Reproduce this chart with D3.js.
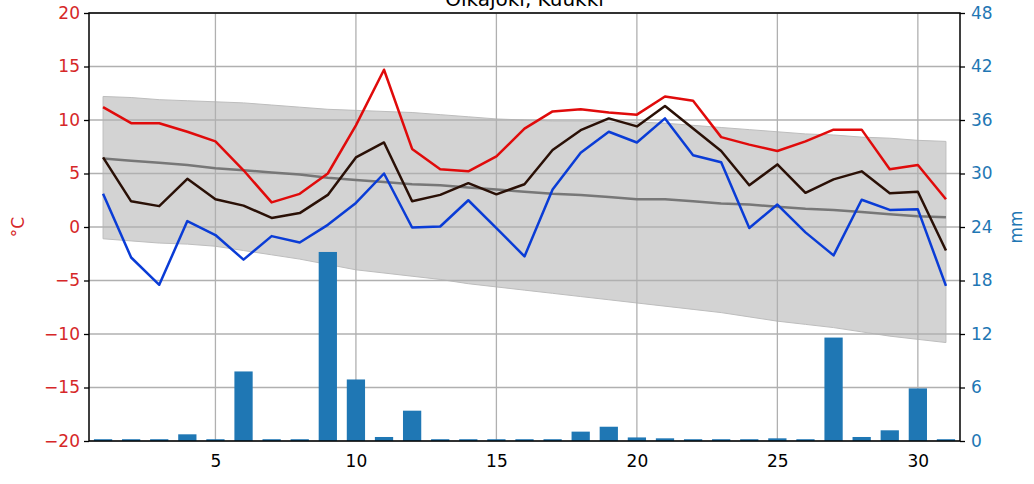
<!DOCTYPE html>
<html>
<head>
<meta charset="utf-8">
<script src="https://cdn.jsdelivr.net/npm/d3@7"></script>
<style>
  body { margin: 0; background: white; }
  text { font-family: "DejaVu Sans", sans-serif; }
</style>
</head>
<body>
<div id="vis"></div>
<script>
// daily values for the month
let days = d3.range(1, 32)
let tMax = [11.2, 9.7, 9.7, 8.9, 8.0, 5.3, 2.3, 3.1, 5.0, 9.5, 14.7, 7.3, 5.4, 5.2, 6.6, 9.2, 10.8, 11.0, 10.7, 10.5, 12.2, 11.8, 8.4, 7.7, 7.1, 8.0, 9.1, 9.1, 5.4, 5.8, 2.6]
let tMean = [6.5, 2.4, 1.95, 4.5, 2.6, 2.0, 0.85, 1.3, 3.0, 6.5, 7.9, 2.4, 3.0, 4.1, 3.05, 4.0, 7.2, 9.05, 10.15, 9.4, 11.3, 9.2, 7.1, 3.9, 5.85, 3.2, 4.45, 5.2, 3.15, 3.3, -2.2]
let tMin = [3.1, -2.85, -5.4, 0.55, -0.75, -3.05, -0.85, -1.45, 0.2, 2.25, 5.0, -0.05, 0.05, 2.5, -0.1, -2.75, 3.5, 6.95, 8.9, 7.9, 10.15, 6.7, 6.05, -0.1, 2.1, -0.5, -2.65, 2.55, 1.6, 1.65, -5.5]
let normMean = [6.4, 6.2, 6.0, 5.8, 5.5, 5.3, 5.1, 4.9, 4.6, 4.4, 4.2, 4.0, 3.9, 3.7, 3.5, 3.3, 3.1, 3.0, 2.8, 2.6, 2.6, 2.4, 2.2, 2.1, 1.9, 1.7, 1.6, 1.4, 1.2, 1.0, 0.9]
let normHigh = [12.2, 12.1, 11.9, 11.8, 11.7, 11.6, 11.4, 11.2, 11.0, 10.9, 10.8, 10.7, 10.5, 10.3, 10.1, 10.0, 9.9, 9.9, 9.8, 9.8, 9.7, 9.5, 9.3, 9.1, 8.9, 8.7, 8.6, 8.4, 8.3, 8.1, 8.0]
let normLow = [-1.1, -1.3, -1.5, -1.6, -1.8, -2.2, -2.6, -3.0, -3.5, -4.0, -4.3, -4.6, -4.9, -5.3, -5.6, -5.9, -6.2, -6.5, -6.8, -7.1, -7.4, -7.7, -8.0, -8.4, -8.8, -9.1, -9.4, -9.8, -10.2, -10.5, -10.8]
let precip = [0.2, 0.2, 0.2, 0.75, 0.2, 7.8, 0.2, 0.2, 21.2, 6.9, 0.45, 3.4, 0.2, 0.2, 0.2, 0.2, 0.2, 1.05, 1.6, 0.4, 0.3, 0.2, 0.2, 0.2, 0.3, 0.2, 11.6, 0.45, 1.2, 5.9, 0.2]

let xTicks = [5, 10, 15, 20, 25, 30]
let tTicks = [-20, -15, -10, -5, 0, 5, 10, 15, 20]
let pTicks = [0, 6, 12, 18, 24, 30, 36, 42, 48]

let margin = { top: 13, left: 89, right: 74, bottom: 43 },
  W = 1034, H = 484,
  width = W - margin.left - margin.right,
  height = H - margin.top - margin.bottom

let svg = d3.select('#vis')
  .append('svg')
  .attr('width', W)
  .attr('height', H)
  .style('background-color', 'white')

let g = svg.append('g')
  .attr('transform', `translate(${margin.left},${margin.top})`)

let x = d3.scaleLinear().domain([0.5, 31.5]).range([0, width])
let yT = d3.scaleLinear().domain([-20, 20]).range([height, 0])
let yP = d3.scaleLinear().domain([0, 48]).range([height, 0])

// normal range band
g.append('path')
  .datum(days)
  .attr('d', d3.area()
    .x(d => x(d))
    .y0((d, i) => yT(normLow[i]))
    .y1((d, i) => yT(normHigh[i])))
  .attr('fill', '#d3d3d3')
  .attr('stroke', '#bdbdbd')
  .attr('stroke-width', 1)

// grid
g.selectAll('.hgrid').data(tTicks).join('line')
  .attr('x1', 0).attr('x2', width)
  .attr('y1', d => yT(d)).attr('y2', d => yT(d))
  .attr('stroke', '#b0b0b0').attr('stroke-width', 1.3)
g.selectAll('.vgrid').data(xTicks).join('line')
  .attr('x1', d => x(d)).attr('x2', d => x(d))
  .attr('y1', 0).attr('y2', height)
  .attr('stroke', '#b0b0b0').attr('stroke-width', 1.3)

// precipitation bars
let bw = 0.65
g.selectAll('.bar').data(precip).join('rect')
  .attr('x', (d, i) => x(days[i] - bw / 2))
  .attr('width', x(bw) - x(0))
  .attr('y', d => yP(d))
  .attr('height', d => height - yP(d))
  .attr('fill', '#1f77b4')

// temperature lines
function addLine(vals, color, w) {
  g.append('path')
    .datum(vals)
    .attr('d', d3.line().x((d, i) => x(days[i])).y(d => yT(d)))
    .attr('fill', 'none')
    .attr('stroke', color)
    .attr('stroke-width', w)
    .attr('stroke-linejoin', 'round')
}
addLine(normMean, '#777777', 2.5)
addLine(tMax, '#e00b0b', 2.5)
addLine(tMin, '#0a3cd6', 2.5)
addLine(tMean, '#2a1006', 2.5)

// frame
g.append('rect')
  .attr('width', width).attr('height', height)
  .attr('fill', 'none').attr('stroke', 'black').attr('stroke-width', 1.5)

// left axis
let axL = g.append('g').call(d3.axisLeft(yT).tickValues(tTicks).tickSize(5).tickPadding(4).tickFormat(d => d < 0 ? '\u2212' + Math.abs(d) : d))
axL.select('.domain').remove()
axL.selectAll('line').attr('stroke', 'black').attr('stroke-width', 1.3)
axL.selectAll('text').attr('fill', '#d62728').style('font-size', '17px').attr('font-family', 'DejaVu Sans')

// right axis
let axR = g.append('g').attr('transform', `translate(${width},0)`)
  .call(d3.axisRight(yP).tickValues(pTicks).tickSize(5).tickPadding(6))
axR.select('.domain').remove()
axR.selectAll('line').attr('stroke', 'black').attr('stroke-width', 1.3)
axR.selectAll('text').attr('fill', '#1f77b4').style('font-size', '17px').attr('font-family', 'DejaVu Sans')

// bottom axis
let axB = g.append('g').attr('transform', `translate(0,${height})`)
  .call(d3.axisBottom(x).tickValues(xTicks).tickSize(0).tickPadding(14))
axB.select('.domain').remove()
axB.selectAll('text').attr('fill', 'black').style('font-size', '17px').attr('font-family', 'DejaVu Sans')

// axis labels
svg.append('text')
  .attr('transform', `translate(24,${margin.top + height / 2}) rotate(-90)`)
  .attr('text-anchor', 'middle')
  .attr('fill', '#d62728')
  .style('font-size', '17px')
  .text('°C')
svg.append('text')
  .attr('transform', `translate(1022,${margin.top + height / 2}) rotate(-90)`)
  .attr('text-anchor', 'middle')
  .attr('fill', '#1f77b4')
  .style('font-size', '17px')
  .text('mm')

// title, partly cut off at top (as in the source image)
svg.append('text')
  .attr('x', margin.left + width / 2)
  .attr('y', 6)
  .attr('text-anchor', 'middle')
  .attr('fill', 'black')
  .style('font-size', '20px')
  .text('Oikajoki, Kuukki')
</script>
</body>
</html>
